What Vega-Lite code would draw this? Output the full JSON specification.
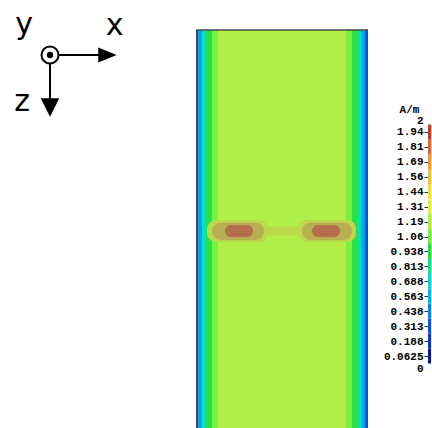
{
  "$schema": "https://vega.github.io/schema/vega-lite/v6.json",
  "padding": 0,
  "spacing": 60,
  "bounds": "flush",
  "config": {"view": {"stroke": null}},
  "resolve": {"scale": {"color": "independent", "x": "independent", "y": "independent"}},
  "datasets": {
    "bands": [
      {"x0": -43, "x1": -42, "z0": 0, "z1": 201, "v": 0.2},
      {"x0": -42, "x1": -40, "z0": 0, "z1": 201, "v": 0.45},
      {"x0": -40, "x1": -38, "z0": 0, "z1": 201, "v": 0.7},
      {"x0": -38, "x1": -35, "z0": 0, "z1": 201, "v": 0.95},
      {"x0": -35, "x1": -32, "z0": 0, "z1": 201, "v": 1.1},
      {"x0": -32, "x1": 32, "z0": 0, "z1": 201, "v": 1.2},
      {"x0": 32, "x1": 35, "z0": 0, "z1": 201, "v": 1.1},
      {"x0": 35, "x1": 37.5, "z0": 0, "z1": 201, "v": 0.95},
      {"x0": 37.5, "x1": 39.5, "z0": 0, "z1": 201, "v": 0.7},
      {"x0": 39.5, "x1": 41.5, "z0": 0, "z1": 201, "v": 0.45},
      {"x0": 41.5, "x1": 43, "z0": 0, "z1": 201, "v": 0.2}
    ],
    "spots": [
      {"x0": -37.5, "x1": -7, "z0": 95, "z1": 106, "v": 1.3},
      {"x0": -10, "x1": 11, "z0": 98.3, "z1": 102.7, "v": 1.3},
      {"x0": 8, "x1": 37, "z0": 95, "z1": 106, "v": 1.3},
      {"x0": -35, "x1": -9, "z0": 96.3, "z1": 105, "v": 1.55},
      {"x0": 10, "x1": 35, "z0": 96.3, "z1": 105, "v": 1.55},
      {"x0": -28.5, "x1": -14.5, "z0": 97.5, "z1": 103.5, "v": 1.8},
      {"x0": 15, "x1": 29, "z0": 97.5, "z1": 103.5, "v": 1.8}
    ],
    "frame": [{"x0": -43, "x1": 43, "z0": 0, "z1": 201}],
    "bar": [
      {"lo": 0, "hi": 0.125, "v": 0.0625},
      {"lo": 0.125, "hi": 0.25, "v": 0.1875},
      {"lo": 0.25, "hi": 0.375, "v": 0.3125},
      {"lo": 0.375, "hi": 0.5, "v": 0.4375},
      {"lo": 0.5, "hi": 0.625, "v": 0.5625},
      {"lo": 0.625, "hi": 0.75, "v": 0.6875},
      {"lo": 0.75, "hi": 0.875, "v": 0.8125},
      {"lo": 0.875, "hi": 1, "v": 0.9375},
      {"lo": 1, "hi": 1.125, "v": 1.0625},
      {"lo": 1.125, "hi": 1.25, "v": 1.1875},
      {"lo": 1.25, "hi": 1.375, "v": 1.3125},
      {"lo": 1.375, "hi": 1.5, "v": 1.4375},
      {"lo": 1.5, "hi": 1.625, "v": 1.5625},
      {"lo": 1.625, "hi": 1.75, "v": 1.6875},
      {"lo": 1.75, "hi": 1.875, "v": 1.8125},
      {"lo": 1.875, "hi": 2, "v": 1.9375}
    ],
    "iconText": [
      {"px": 2.4, "py": 3.4, "t": "y"},
      {"px": 11.45, "py": 3.5, "t": "x"},
      {"px": 2.2, "py": 11.1, "t": "z"}
    ],
    "iconLines": [
      {"px": 5.85, "py": 5.5, "px2": 10.2, "py2": 5.5},
      {"px": 5.0, "py": 6.35, "px2": 5.0, "py2": 10.2}
    ],
    "iconOrigin": [{"px": 5.0, "py": 5.5}],
    "headRight": [{"px": 10.75, "py": 5.5}],
    "headDown": [{"px": 5.0, "py": 10.75}]
  },
  "hconcat": [
    {
      "width": 136,
      "height": 125,
      "layer": [
        {
          "data": {"name": "iconLines"},
          "mark": {"type": "rule", "color": "black", "strokeWidth": 2},
          "encoding": {
            "x": {"field": "px", "type": "quantitative", "scale": {"domain": [0, 13.6], "nice": false, "zero": false}, "axis": null},
            "y": {"field": "py", "type": "quantitative", "scale": {"domain": [0, 12.5], "nice": false, "zero": false, "reverse": true}, "axis": null},
            "x2": {"field": "px2"},
            "y2": {"field": "py2"}
          }
        },
        {
          "data": {"name": "iconOrigin"},
          "mark": {"type": "point", "shape": "circle", "size": 290, "filled": false, "stroke": "black", "strokeWidth": 2, "opacity": 1},
          "encoding": {
            "x": {"field": "px", "type": "quantitative"},
            "y": {"field": "py", "type": "quantitative"}
          }
        },
        {
          "data": {"name": "iconOrigin"},
          "mark": {"type": "point", "shape": "circle", "size": 40, "filled": true, "color": "black", "opacity": 1},
          "encoding": {
            "x": {"field": "px", "type": "quantitative"},
            "y": {"field": "py", "type": "quantitative"}
          }
        },
        {
          "data": {"name": "headRight"},
          "mark": {"type": "point", "shape": "M1,0L-1,-0.8L-1,0.8Z", "size": 340, "filled": true, "color": "black", "opacity": 1},
          "encoding": {
            "x": {"field": "px", "type": "quantitative"},
            "y": {"field": "py", "type": "quantitative"}
          }
        },
        {
          "data": {"name": "headDown"},
          "mark": {"type": "point", "shape": "M0,1L-1,-1L1,-1Z", "size": 340, "filled": true, "color": "black", "opacity": 1},
          "encoding": {
            "x": {"field": "px", "type": "quantitative"},
            "y": {"field": "py", "type": "quantitative"}
          }
        },
        {
          "data": {"name": "iconText"},
          "mark": {"type": "text", "font": "DejaVu Sans", "fontSize": 30, "align": "center", "baseline": "alphabetic", "color": "black"},
          "encoding": {
            "x": {"field": "px", "type": "quantitative"},
            "y": {"field": "py", "type": "quantitative"},
            "text": {"field": "t"}
          }
        }
      ]
    },
    {
      "width": 172,
      "height": 428,
      "resolve": {"scale": {"color": "shared"}},
      "layer": [
        {
          "data": {"name": "bands"},
          "mark": {"type": "rect", "clip": true},
          "encoding": {
            "x": {"field": "x0", "type": "quantitative", "scale": {"domain": [-43, 43], "nice": false, "zero": false}, "axis": null},
            "x2": {"field": "x1"},
            "y": {"field": "z0", "type": "quantitative", "scale": {"domain": [-15, 199], "nice": false, "zero": false, "reverse": true}, "axis": null},
            "y2": {"field": "z1"},
            "color": {
              "field": "v", "type": "quantitative", "legend": null,
              "scale": {"type": "quantize", "domain": [0, 2], "nice": false, "zero": false,
                "range": ["#000080", "#1848d8", "#0070f0", "#00a8f0", "#00c8e8", "#00e0c0", "#00e880", "#28e048", "#78f040", "#b0f048", "#bcd84c", "#bcc44c", "#b8b050", "#b89050", "#b46e4c", "#b04838"]}
            }
          }
        },
        {
          "data": {"name": "spots"},
          "mark": {"type": "rect", "cornerRadius": 9},
          "encoding": {
            "x": {"field": "x0", "type": "quantitative"},
            "x2": {"field": "x1"},
            "y": {"field": "z0", "type": "quantitative"},
            "y2": {"field": "z1"},
            "color": {
              "field": "v", "type": "quantitative", "legend": null,
              "scale": {"type": "quantize", "domain": [0, 2], "nice": false, "zero": false,
                "range": ["#000080", "#1848d8", "#0070f0", "#00a8f0", "#00c8e8", "#00e0c0", "#00e880", "#28e048", "#78f040", "#b0f048", "#bcd84c", "#bcc44c", "#b8b050", "#b89050", "#b46e4c", "#b04838"]}
            }
          }
        },
        {
          "data": {"name": "frame"},
          "mark": {"type": "rect", "fill": null, "fillOpacity": 0, "stroke": "#4a4a4a", "strokeWidth": 1.5, "clip": true},
          "encoding": {
            "x": {"field": "x0", "type": "quantitative"},
            "x2": {"field": "x1"},
            "y": {"field": "z0", "type": "quantitative"},
            "y2": {"field": "z1"}
          }
        }
      ]
    },
    {
      "width": 3,
      "height": 380,
      "data": {"name": "bar"},
      "mark": {"type": "rect"},
      "encoding": {
        "y": {
          "field": "lo", "type": "quantitative",
          "scale": {"domain": [-0.1381, 3.0418], "nice": false, "zero": false},
          "axis": {
            "values": [2.03, 1.9375, 1.8125, 1.6875, 1.5625, 1.4375, 1.3125, 1.1875, 1.0625, 0.9375, 0.8125, 0.6875, 0.5625, 0.4375, 0.3125, 0.1875, 0.0625, -0.046],
            "labelExpr": "datum.value > 2 ? '2' : (datum.value < 0 ? '0' : format(datum.value, '.3r'))",
            "domain": false,
            "grid": false,
            "tickSize": 4,
            "tickWidth": 1,
            "tickColor": {"condition": {"test": "datum.value > 2 || datum.value < 0", "value": "transparent"}, "value": "#333333"},
            "labelPadding": 1,
            "labelFont": "Liberation Mono",
            "labelFontSize": 11,
            "labelFontWeight": "bold",
            "labelColor": "black",
            "labelBound": false,
            "labelOverlap": false,
            "labelFlush": false,
            "title": "A/m",
            "titleAngle": 0,
            "titleFont": "Liberation Mono",
            "titleFontSize": 11,
            "titleFontWeight": "bold",
            "titleColor": "black",
            "titleAlign": "center",
            "titleBaseline": "alphabetic",
            "titleX": -19,
            "titleY": 112
          }
        },
        "y2": {"field": "hi"},
        "color": {
          "field": "v", "type": "quantitative", "legend": null,
          "scale": {"type": "quantize", "domain": [0, 2], "nice": false, "zero": false,
            "range": ["#101890", "#1030c0", "#1050e0", "#1080f0", "#10b0f0", "#10d0d0", "#10e090", "#20e040", "#70f040", "#b0f048", "#e0f048", "#f0e040", "#f0c040", "#f09838", "#e06830", "#c83828"]}
        }
      }
    }
  ]
}
